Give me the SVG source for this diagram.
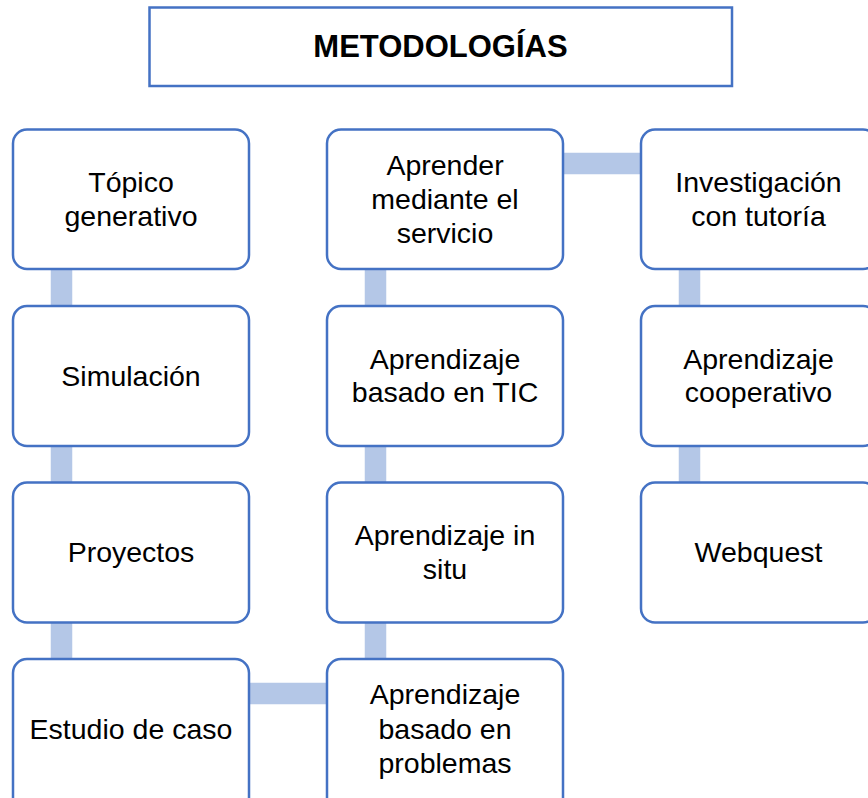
<svg xmlns="http://www.w3.org/2000/svg" width="868" height="798" viewBox="0 0 868 798">
<style>
.box{fill:#fff;stroke:#4472C4;stroke-width:2.5}
.title{fill:#fff;stroke:#4472C4;stroke-width:2.5}
.bar{stroke:#B4C7E7;stroke-width:21.5;fill:none}
text{font-family:"Liberation Sans",Arial,sans-serif;font-size:28.5px;fill:#000;text-anchor:middle}
.t{font-weight:bold;font-size:31px}
</style>
<rect width="868" height="798" fill="#fff"/>
<g id="connectors">
<line class="bar" x1="61.5" y1="269" x2="61.5" y2="659"/>
<line class="bar" x1="375.5" y1="269" x2="375.5" y2="659"/>
<line class="bar" x1="689.5" y1="269" x2="689.5" y2="483"/>
<line class="bar" x1="562" y1="163.5" x2="641" y2="163.5"/>
<line class="bar" x1="249" y1="693.5" x2="327" y2="693.5"/>
</g>
<g id="title"><rect class="title" x="149.5" y="7.5" width="582.5" height="78.5"/><text class="t" x="440.5" y="57">METODOLOGÍAS</text></g>
<g id="n-topico"><rect class="box" x="13" y="129.5" width="236" height="139.5" rx="14"/><text x="131" y="192">Tópico</text><text x="131" y="225.5">generativo</text></g>
<g id="n-simulacion"><rect class="box" x="13" y="306" width="236" height="140" rx="14"/><text x="131" y="385.5">Simulación</text></g>
<g id="n-proyectos"><rect class="box" x="13" y="482.5" width="236" height="140" rx="14"/><text x="131" y="562">Proyectos</text></g>
<g id="n-estudio"><rect class="box" x="13" y="659" width="236" height="160" rx="14"/><text x="131" y="738.5">Estudio de caso</text></g>
<g id="n-aprender"><rect class="box" x="327" y="129.5" width="236" height="139.5" rx="14"/><text x="445" y="174.5">Aprender</text><text x="445" y="208.5">mediante el</text><text x="445" y="242.5">servicio</text></g>
<g id="n-tic"><rect class="box" x="327" y="306" width="236" height="140" rx="14"/><text x="445" y="368.5">Aprendizaje</text><text x="445" y="402">basado en TIC</text></g>
<g id="n-insitu"><rect class="box" x="327" y="482.5" width="236" height="140" rx="14"/><text x="445" y="545">Aprendizaje in</text><text x="445" y="578.5">situ</text></g>
<g id="n-problemas"><rect class="box" x="327" y="659" width="236" height="160" rx="14"/><text x="445" y="704">Aprendizaje</text><text x="445" y="738.5">basado en</text><text x="445" y="773">problemas</text></g>
<g id="n-investigacion"><rect class="box" x="641" y="129.5" width="236" height="139.5" rx="14"/><text x="758.5" y="192">Investigación</text><text x="758.5" y="225.5">con tutoría</text></g>
<g id="n-cooperativo"><rect class="box" x="641" y="306" width="236" height="140" rx="14"/><text x="758.5" y="368.5">Aprendizaje</text><text x="758.5" y="402">cooperativo</text></g>
<g id="n-webquest"><rect class="box" x="641" y="482.5" width="236" height="140" rx="14"/><text x="758.5" y="562">Webquest</text></g>
</svg>
